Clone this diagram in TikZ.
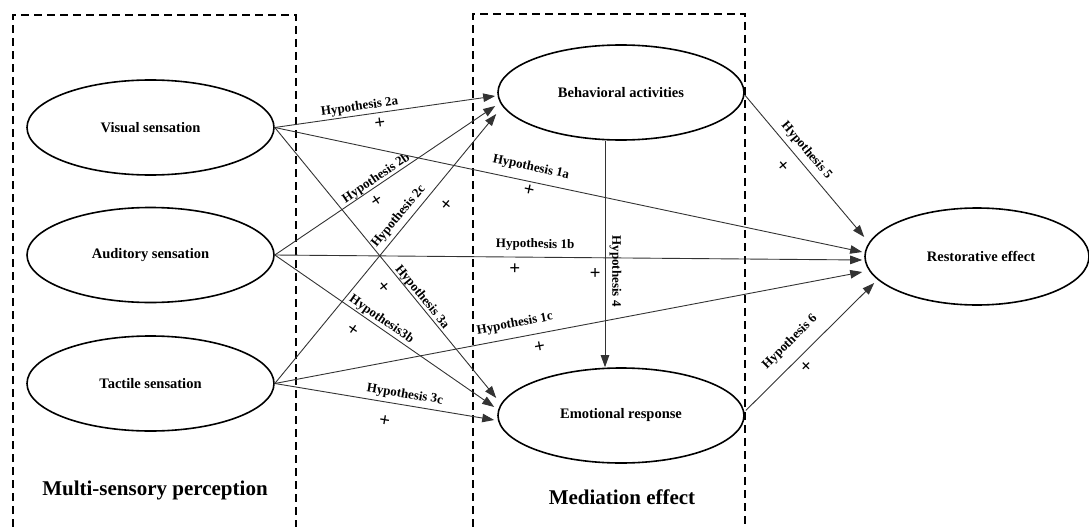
\documentclass[tikz,border=0pt]{standalone}
\usepackage{fontspec}
\setmainfont{Liberation Serif}
\usetikzlibrary{shapes.geometric,arrows.meta,calc}
\begin{document}
\begin{tikzpicture}[x=1pt,y=-1pt,
  box/.style={draw=black, line width=1.8pt, dash pattern=on 8pt off 5pt},
  ell/.style={ellipse, draw=black, line width=1.6pt, inner sep=0pt, font=\fontsize{14.5}{17}\selectfont\bfseries},
  arr/.style={draw=black!80, line width=0.9pt, -{Triangle[length=12pt,width=8.5pt]}},
  hyp/.style={sloped, inner sep=0pt, font=\fontsize{13}{15}\selectfont\bfseries},
  pm/.style={sloped, inner sep=0pt, font=\fontsize{19}{19}\selectfont\bfseries},
  title/.style={font=\fontsize{21}{24}\selectfont\bfseries}]
\useasboundingbox (0,0) rectangle (1089,527);
% frames
\draw[box] (13,527) -- (13,15) -- (296,15) -- (296,527);
\draw[box] (473,527) -- (473,14) -- (745,14) -- (745,527);
% nodes
\node[ell, minimum width=247pt, minimum height=95pt] (vis) at (150.5,127.5) {Visual sensation};
\node[ell, minimum width=247pt, minimum height=95pt] (aud) at (150.5,255) {Auditory sensation};
\node[ell, minimum width=247pt, minimum height=95pt] (tac) at (150.5,383.5) {Tactile sensation};
\node[ell, minimum width=246pt, minimum height=95pt] (beh) at (621,92.5) {Behavioral activities};
\node[ell, minimum width=246pt, minimum height=95pt] (emo) at (621,415.5) {Emotional response};
\node[ell, minimum width=224pt, minimum height=97pt] (res) at (977,256.5) {\hspace*{8pt}Restorative effect};
\node[title] (msp) at (155,490) {Multi-sensory perception};
\node[title] (med) at (622,497) {Mediation effect};
% hypothesis 2
\draw[arr] (vis.east) -- node[hyp, pos=0.39, above=2pt]{Hypothesis 2a} node[pm, pos=0.47, below=5pt]{+} ($(beh.west)+(-2,3.5)$);
\draw[arr] (aud.east) -- node[hyp, pos=0.477, above=0pt]{Hypothesis 2b} node[pm, pos=0.432, below=6.6pt]{+} ($(beh.west)+(-2,13.5)$);
\draw[arr] (tac.east) -- node[hyp, pos=0.596, above=4pt]{Hypothesis 2c} node[pm, pos=0.709, below=13.8pt]{+} ($(beh.west)+(-1,21.5)$);
% hypothesis 1
\draw[arr] (vis.east) -- node[hyp, pos=0.431, above=7.7pt]{Hypothesis 1a} node[pm, pos=0.436, below=3pt]{+} ($(res.west)+(-2,-4.5)$);
\draw[arr] (aud.east) -- node[hyp, pos=0.443, above=6pt]{Hypothesis 1b} node[pm, pos=0.409, below=6pt]{+} ($(res.west)+(-2,3.5)$);
\draw[arr] (tac.east) -- node[hyp, pos=0.413, above=7.3pt]{Hypothesis 1c} node[pm, pos=0.4465, below=8pt]{+} ($(res.west)+(-2,15.5)$);
% hypothesis 3
\draw[arr] (vis.east) -- node[hyp, pos=0.642, above=0pt]{Hypothesis 3a} node[pm, pos=0.55, below=11.5pt]{+} ($(emo.west)+(-1,-17.5)$);
\draw[arr] (aud.east) -- node[hyp, pos=0.466, above=1.2pt]{Hypothesis3b} node[pm, pos=0.401, below=12pt]{+} ($(emo.west)+(-3,-8.5)$);
\draw[arr] (tac.east) -- node[hyp, pos=0.585, above=4pt]{Hypothesis 3c} node[pm, pos=0.515, below=13pt]{+} ($(emo.west)+(-3,4.5)$);
% hypothesis 4, 5, 6
\draw[arr] ($(beh.south)+(-16,0)$) -- node[hyp, pos=0.575, above=4pt]{Hypothesis 4} node[pm, pos=0.583, below=5pt]{+} ($(emo.north)+(-16,0)$);
\draw[arr] ($(beh.east)+(0,2.5)$) -- node[hyp, pos=0.444, above=5pt]{Hypothesis 5} node[pm, pos=0.425, below=11.3pt]{+} ($(res.west)+(0,-19.5)$);
\draw[arr] ($(emo.east)+(1,-5)$) -- node[hyp, pos=0.439, above=11pt]{Hypothesis 6} node[pm, pos=0.41, below=6pt]{+} ($(res.west)+(10,26.5)$);
\end{tikzpicture}
\end{document}
